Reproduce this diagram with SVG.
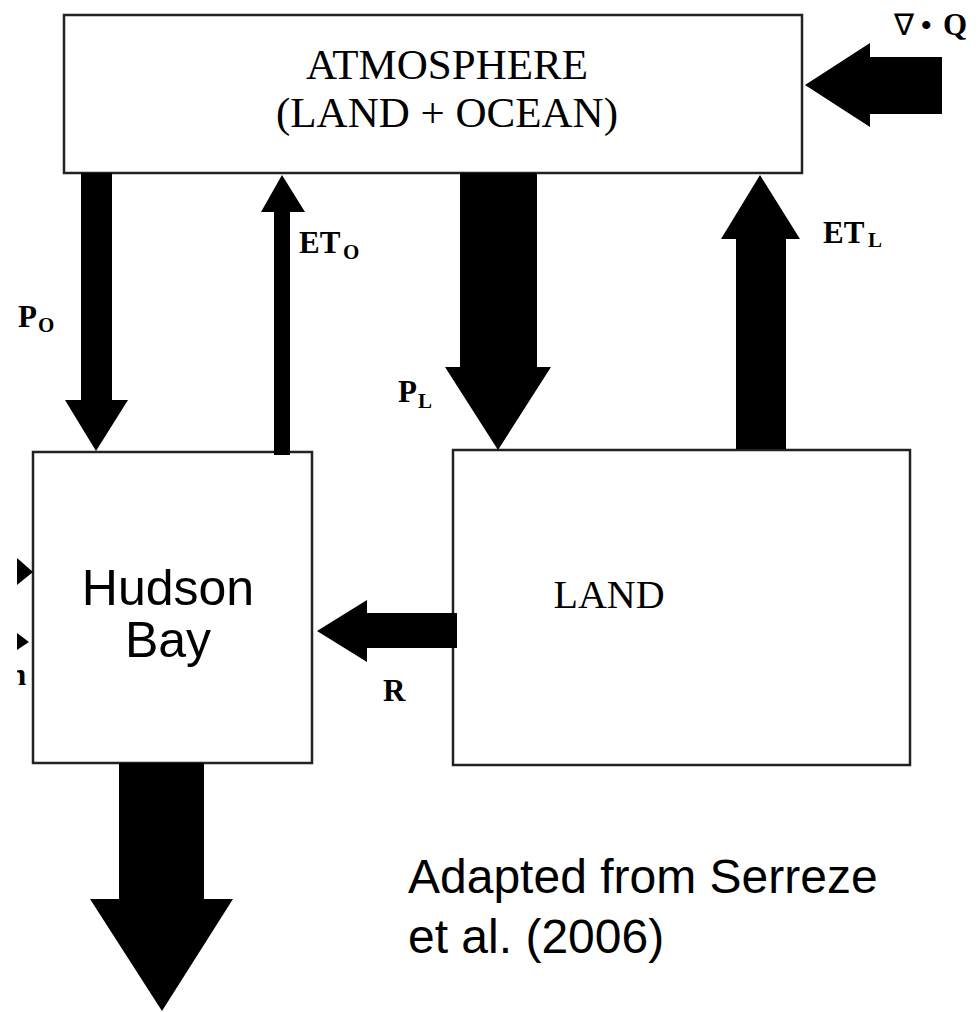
<svg xmlns="http://www.w3.org/2000/svg" width="980" height="1012" viewBox="0 0 980 1012">
<defs>
<style>
.box{fill:#fff;stroke:#222;stroke-width:2.5}
.arr{fill:#000}
.serif{font-family:"Liberation Serif","Times New Roman",serif;fill:#000}
.lbl{font-family:"Liberation Serif","Times New Roman",serif;font-weight:bold;font-size:31px;fill:#000}
.sub{font-size:21px}
.sans{font-family:"Liberation Sans",Arial,sans-serif;fill:#000}
</style>
<clipPath id="cut"><rect x="17" y="0" width="20" height="1012"/></clipPath>
</defs>
<rect width="980" height="1012" fill="#fff"/>
<g id="atmosphere">
<rect class="box" x="64" y="15" width="738" height="158"/>
<text class="serif" font-size="43" x="447" y="79" text-anchor="middle">ATMOSPHERE</text>
<text class="serif" font-size="43" x="447" y="127" text-anchor="middle">(LAND + OCEAN)</text>
</g>
<g id="hudson-bay">
<rect class="box" x="33" y="452" width="279" height="311"/>
<text class="sans" font-size="50" x="168" y="605" text-anchor="middle">Hudson</text>
<text class="sans" font-size="50" x="168" y="657" text-anchor="middle">Bay</text>
</g>
<g id="land">
<rect class="box" x="453" y="450" width="457" height="315"/>
<text class="serif" font-size="40" x="609" y="608" text-anchor="middle">LAND</text>
</g>
<g id="connectors">
<polygon class="arr" points="81,173 112,173 112,400 128,400 96,451 65,400 81,400"/>
<polygon class="arr" points="274,455 290,455 290,212 305,212 282,175 261,212 274,212"/>
<polygon class="arr" points="460,173 537,173 537,367 551,367 498,450 445,367 460,367"/>
<polygon class="arr" points="736,449 786,449 786,239 800,239 760,175 721,239 736,239"/>
<polygon class="arr" points="457,613 457,648 367,648 367,662 317,631 367,600 367,613"/>
<polygon class="arr" points="119,763 204,763 204,899 233,899 162,1011 90,899 119,899"/>
<polygon class="arr" points="942,57 942,114 870,114 870,127 805,85 870,43 870,57"/>
<polygon class="arr" points="17,558 33,572 17,585"/>
<polygon class="arr" points="17,633 29,642 17,650"/>
</g>
<g id="labels">
<text class="lbl" x="18" y="327">P<tspan class="sub" x="38" y="332">O</tspan></text>
<text class="lbl" x="299" y="253">ET<tspan class="sub" x="343" y="259">O</tspan></text>
<text class="lbl" x="398" y="402">P<tspan class="sub" x="418" y="408">L</tspan></text>
<text class="lbl" x="823" y="243">ET<tspan class="sub" x="868" y="247">L</tspan></text>
<text class="lbl" x="383" y="701">R</text>
<text class="serif" font-size="30" x="894" y="35">∇</text>
<text class="serif" font-size="30" font-weight="bold" x="921" y="35">•</text>
<text class="lbl" font-size="32" x="943" y="35">Q</text>
<text class="lbl" font-size="30" x="9" y="685" clip-path="url(#cut)">n</text>
<text class="sans" font-size="48" x="408" y="893">Adapted from Serreze</text>
<text class="sans" font-size="48" x="408" y="953">et al. (2006)</text>
</g>
</svg>
